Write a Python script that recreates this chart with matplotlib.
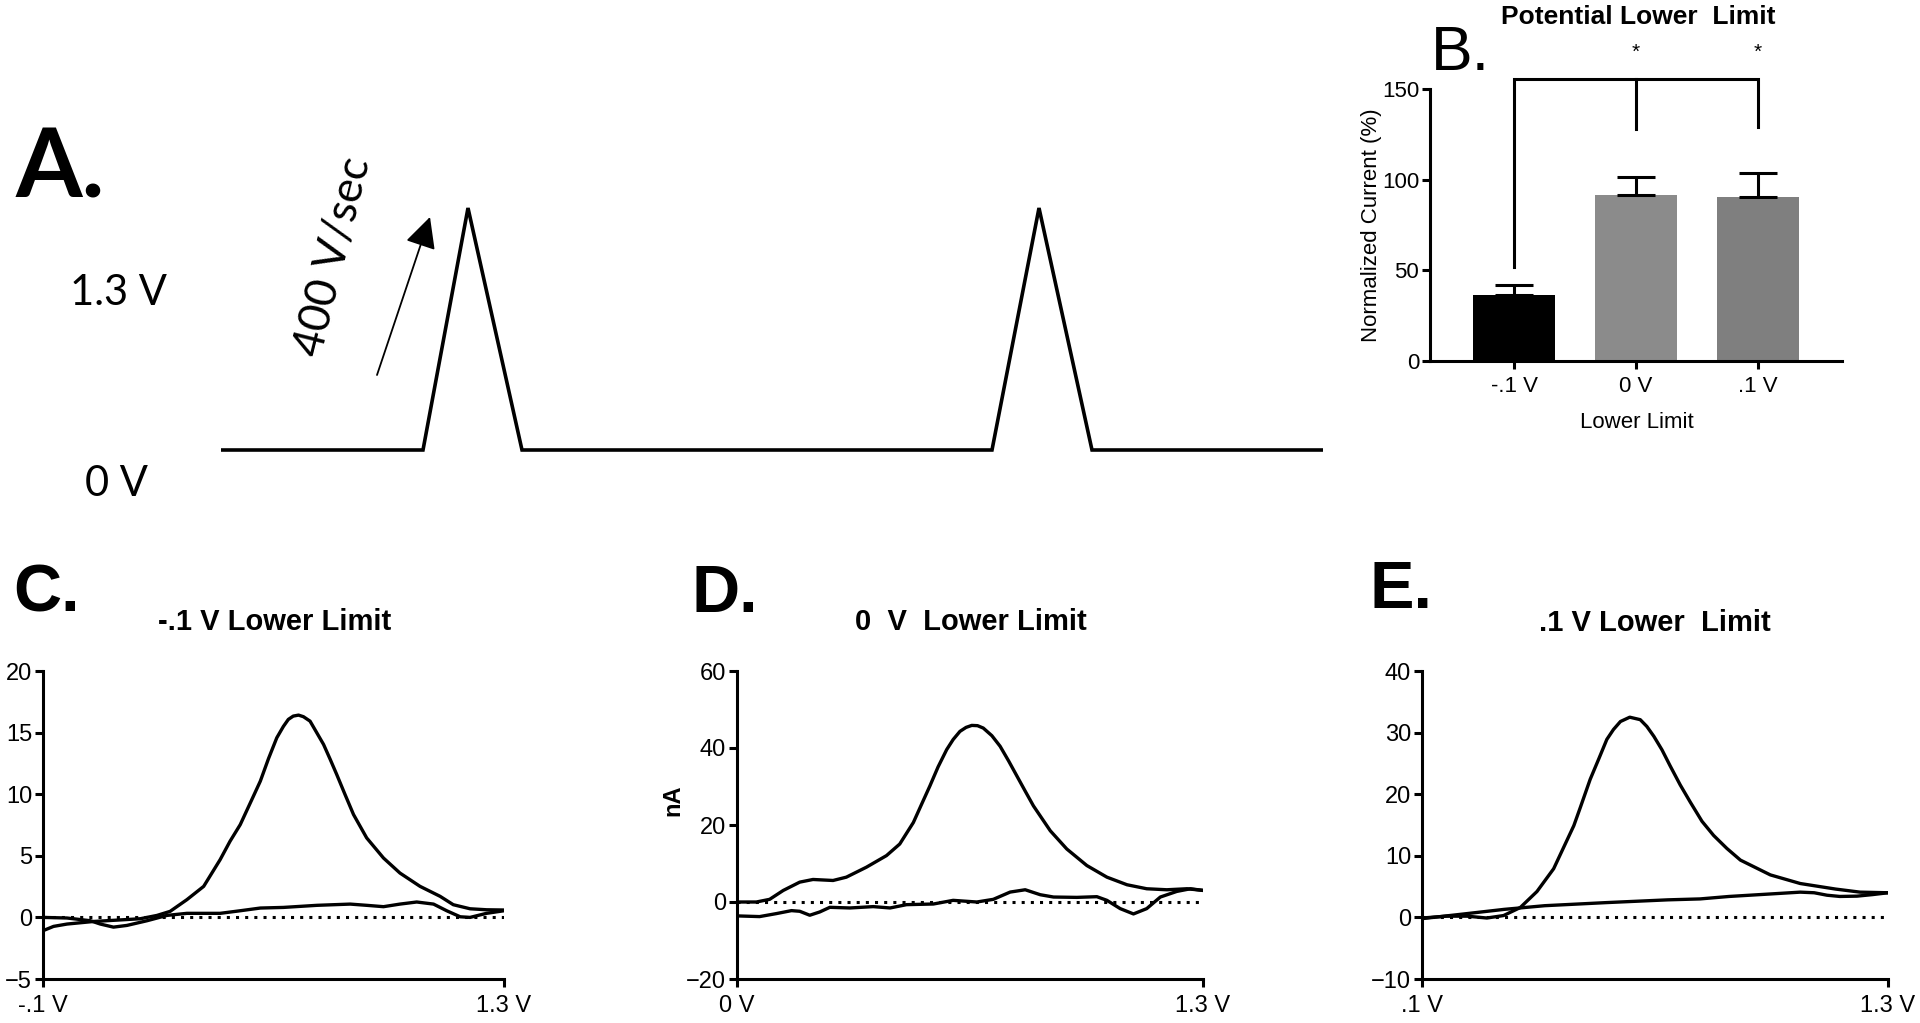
import numpy as np
import matplotlib
matplotlib.use('Agg')
import matplotlib.pyplot as plt
from matplotlib import font_manager

# --- panel A: triangular waveform (time in arbitrary ms, potential in V)
wave_t = [0, 20.2, 24.7, 30.1, 77.1, 81.8, 87.1, 110.2]
wave_v = [0, 0, 1.3, 0, 0, 1.3, 0, 0]

# --- panel B: normalized current per lower limit
limits = ['-.1 V', '0 V', '.1 V']
norm_current = [36.4, 91.5, 90.6]
norm_sem = [5.5, 9.8, 12.9]
bar_colors = ['#000000', '#8b8b8b', '#7f7f7f']
bracket_top = 155.5
bracket_ends = [51.8, 127.9, 129.2]
star_y = 170

# --- panel C: -.1 V lower limit CV (V, nA)
c_up_v = [-0.1, -0.068, -0.027, 0.054, 0.125, 0.195, 0.246, 0.286, 0.337, 0.388, 0.438,
          0.468, 0.499, 0.539, 0.56, 0.585, 0.61, 0.63, 0.645, 0.66, 0.676, 0.691,
          0.711, 0.752, 0.772, 0.792, 0.817, 0.843, 0.863, 0.883, 0.934, 0.984,
          1.045, 1.106, 1.146, 1.197, 1.247, 1.3]
c_up_i = [-1.08, -0.73, -0.54, -0.33, -0.22, -0.11, 0.16, 0.49, 1.44, 2.52, 4.69,
          6.18, 7.53, 9.84, 11.06, 12.9, 14.58, 15.5, 16.07, 16.34, 16.42, 16.29,
          15.93, 14.04, 12.84, 11.6, 9.99, 8.35, 7.4, 6.45, 4.82, 3.6,
          2.52, 1.71, 1.03, 0.7, 0.62, 0.6]
c_lo_v = [-0.1, -0.027, 0.044, 0.074, 0.114, 0.155, 0.216, 0.276, 0.337, 0.438, 0.499,
          0.56, 0.63, 0.732, 0.833, 0.883, 0.934, 0.984, 1.035, 1.086, 1.126, 1.167,
          1.197, 1.247, 1.3]
c_lo_i = [0, -0.05, -0.27, -0.54, -0.79, -0.65, -0.27, 0.16, 0.33, 0.33, 0.54,
          0.76, 0.81, 0.98, 1.08, 0.98, 0.87, 1.08, 1.25, 1.08, 0.54, 0.05,
          0, 0.33, 0.54]

# --- panel D: 0 V lower limit
d_up_v = [0, 0.054, 0.091, 0.129, 0.175, 0.212, 0.268, 0.305, 0.361, 0.417, 0.454,
          0.492, 0.515, 0.538, 0.561, 0.585, 0.603, 0.622, 0.639, 0.655, 0.671, 0.687,
          0.711, 0.734, 0.758, 0.781, 0.804, 0.827, 0.874, 0.92, 0.976, 1.032,
          1.088, 1.143, 1.199, 1.255, 1.3]
d_up_i = [0, 0, 0.69, 3.0, 5.16, 5.85, 5.59, 6.45, 9.04, 12.05, 15.06,
          20.65, 25.4, 30.12, 35.1, 39.59, 42.2, 44.32, 45.35, 45.87, 45.8, 45.18,
          43.2, 40.45, 36.6, 32.7, 28.8, 24.96, 18.5, 13.77, 9.47, 6.45,
          4.48, 3.44, 3.18, 3.44, 3.01]
d_lo_v = [0, 0.063, 0.11, 0.152, 0.175, 0.203, 0.231, 0.259, 0.315, 0.38, 0.427,
          0.473, 0.548, 0.603, 0.669, 0.715, 0.762, 0.804, 0.846, 0.883, 0.948, 1.004,
          1.032, 1.069, 1.106, 1.143, 1.181, 1.227, 1.265, 1.3]
d_lo_i = [-3.61, -3.79, -3.01, -2.24, -2.41, -3.44, -2.58, -1.38, -1.55, -1.2, -1.55,
          -0.69, -0.52, 0.43, 0, 0.69, 2.58, 3.18, 1.89, 1.29, 1.2, 1.38,
          0.43, -1.72, -3.1, -1.72, 1.29, 2.75, 3.44, 3.01]

# --- panel E: .1 V lower limit
e_up_v = [0.1, 0.164, 0.216, 0.267, 0.31, 0.353, 0.396, 0.439, 0.491, 0.508, 0.533,
          0.555, 0.576, 0.593, 0.611, 0.635, 0.662, 0.679, 0.697, 0.718, 0.739, 0.765,
          0.791, 0.821, 0.851, 0.885, 0.92, 0.997, 1.074, 1.165, 1.228, 1.3]
e_up_i = [-0.1, 0.2, 0.2, -0.1, 0.3, 1.6, 4.2, 7.9, 14.9, 17.9, 22.4,
          25.7, 28.9, 30.5, 31.8, 32.5, 32.1, 31.0, 29.4, 27.2, 24.6, 21.5,
          18.7, 15.6, 13.3, 11.2, 9.3, 6.9, 5.5, 4.6, 4.1, 4.0]
e_lo_v = [0.1, 0.205, 0.311, 0.416, 0.574, 0.733, 0.816, 0.891, 0.996, 1.074, 1.11,
          1.143, 1.176, 1.22, 1.26, 1.3]
e_lo_i = [-0.2, 0.54, 1.3, 1.9, 2.4, 2.85, 3.0, 3.4, 3.8, 4.1, 4.0,
          3.6, 3.4, 3.45, 3.7, 4.0]

W, H = 1920, 1023
names = {f.name for f in font_manager.fontManager.ttflist}
narrow = 'Liberation Sans Narrow' if 'Liberation Sans Narrow' in names else 'Liberation Sans'
plt.rcParams['font.family'] = ['Liberation Sans', 'DejaVu Sans']

fig = plt.figure(figsize=(W / 100, H / 100), dpi=100)


def box(x0, y0, x1, y1):
    # pixel box (top-left origin) -> figure fraction rect
    return [x0 / W, 1 - y1 / H, (x1 - x0) / W, (y1 - y0) / H]


def ftext(x, y, s, **kw):
    fig.text(x / W, 1 - y / H, s, **kw)


LW = 2.2
CURVE_LW = 2.4

# ---------------- A ----------------
ax_a = fig.add_axes(box(221, 208, 1323, 450))
ax_a.plot(wave_t, wave_v, color='black', lw=2.6, clip_on=False,
          solid_joinstyle='miter', solid_capstyle='butt')
ax_a.set_xlim(wave_t[0], wave_t[-1])
ax_a.set_ylim(0, 1.3)
ax_a.axis('off')

ftext(16, 197, 'A.', family='Lato', weight='bold', fontsize=69, va='baseline')
ftext(118, 293, '1.3 V', family='Lato', fontsize=30, ha='center', va='center')
ftext(116, 484, '0 V', family='Lato', fontsize=30, ha='center', va='center')
ftext(334, 257, '400 V/sec', family='Lato', fontsize=32, rotation=76,
      ha='center', va='center', rotation_mode='anchor')
ax_a.annotate('', xy=(430 / W, 1 - 217 / H), xytext=(377 / W, 1 - 375 / H),
              xycoords='figure fraction', textcoords='figure fraction',
              arrowprops=dict(arrowstyle='-|>,head_length=0.4,head_width=0.2',
                              mutation_scale=48, lw=1.3, color='black',
                              shrinkA=0, shrinkB=0))

# ---------------- B ----------------
ax_b = fig.add_axes(box(1430, 89, 1842, 361))
xb = np.arange(len(limits))
ax_b.bar(xb, norm_current, width=0.67, color=bar_colors, zorder=2)
ax_b.errorbar(xb, norm_current, yerr=[np.zeros(len(xb)), norm_sem], fmt='none',
              ecolor='black', elinewidth=LW, capsize=14, capthick=LW, zorder=3)
ax_b.plot([0, 0, 2, 2], [bracket_ends[0], bracket_top, bracket_top, bracket_ends[2]],
          color='black', lw=LW, clip_on=False, solid_joinstyle='miter')
ax_b.plot([1, 1], [bracket_top, bracket_ends[1]], color='black', lw=LW, clip_on=False)
for xs in (1, 2):
    ax_b.text(xs, star_y, '*', ha='center', va='center', fontsize=15)
ax_b.set_xlim(-0.69, 2.69)
ax_b.set_ylim(0, 150)
ax_b.set_yticks([0, 50, 100, 150])
ax_b.set_xticks(xb)
ax_b.set_xticklabels(limits)
for sp in ('top', 'right'):
    ax_b.spines[sp].set_visible(False)
for sp in ('left', 'bottom'):
    ax_b.spines[sp].set_linewidth(LW)
ax_b.tick_params(direction='out', length=5.8, width=LW, labelsize=16, pad=2)
ax_b.tick_params(axis='x', pad=5)
for lab in ax_b.get_xticklabels() + ax_b.get_yticklabels():
    lab.set_family(narrow)
ax_b.set_ylabel('Normalized Current (%)', fontsize=16)
ax_b.yaxis.label.set_va('center')
ax_b.yaxis.set_label_coords((1372 - 1430) / 412, 0.5)
ax_b.set_xlabel('Lower Limit', fontsize=16)
ax_b.xaxis.label.set_va('center')
ax_b.xaxis.set_label_coords((1637 - 1430) / 412, (361 - 422) / 272)
ftext(1638, 17, 'Potential Lower  Limit', weight='bold', fontsize=19,
      ha='center', va='center')
ftext(1431, 70, 'B.', fontsize=45, va='baseline')


# ---------------- C, D, E ----------------
def cv_panel(rect, up_v, up_i, lo_v, lo_i, xlo, ylim, yticks, xlabels):
    ax = fig.add_axes(rect)
    ax.axhline(0, color='black', lw=LW, ls=(0, (1, 2)), dash_capstyle='butt', zorder=1)
    ax.plot(up_v, up_i, color='black', lw=CURVE_LW, solid_joinstyle='round', zorder=2)
    ax.plot(lo_v, lo_i, color='black', lw=CURVE_LW, solid_joinstyle='round', zorder=2)
    ax.set_xlim(xlo, 1.3)
    ax.set_ylim(*ylim)
    ax.set_yticks(yticks)
    ax.set_xticks([xlo, 1.3])
    ax.set_xticklabels(xlabels)
    for sp in ('top', 'right'):
        ax.spines[sp].set_visible(False)
    for sp in ('left', 'bottom'):
        ax.spines[sp].set_linewidth(LW)
    ax.tick_params(direction='out', length=5.8, width=LW, labelsize=17, pad=2)
    ax.tick_params(axis='x', pad=6)
    return ax


ax_c = cv_panel(box(43, 671, 504, 979), c_up_v, c_up_i, c_lo_v, c_lo_i,
                -0.1, (-5, 20), [-5, 0, 5, 10, 15, 20], ['-.1 V', '1.3 V'])
ax_d = cv_panel(box(737, 671, 1203, 979), d_up_v, d_up_i, d_lo_v, d_lo_i,
                0.0, (-20, 60), [-20, 0, 20, 40, 60], ['0 V', '1.3 V'])
ax_e = cv_panel(box(1422, 671, 1888, 979), e_up_v, e_up_i, e_lo_v, e_lo_i,
                0.1, (-10, 40), [-10, 0, 10, 20, 30, 40], ['.1 V', '1.3 V'])
ax_d.set_ylabel('nA', fontsize=17, weight='bold')
ax_d.yaxis.label.set_va('center')
ax_d.yaxis.set_label_coords((673 - 737) / 466, (979 - 800) / 308)

ftext(275, 622, '-.1 V Lower Limit', weight='bold', fontsize=21, ha='center', va='center')
ftext(971, 622, '0  V  Lower Limit', weight='bold', fontsize=21, ha='center', va='center')
ftext(1655, 623, '.1 V Lower  Limit', weight='bold', fontsize=21, ha='center', va='center')
ftext(13, 612, 'C.', weight='bold', fontsize=48, va='baseline')
ftext(692, 612, 'D.', weight='bold', fontsize=48, va='baseline')
ftext(1369, 608, 'E.', weight='bold', fontsize=48, va='baseline')

fig.savefig('out.png', dpi=100, facecolor='white')
